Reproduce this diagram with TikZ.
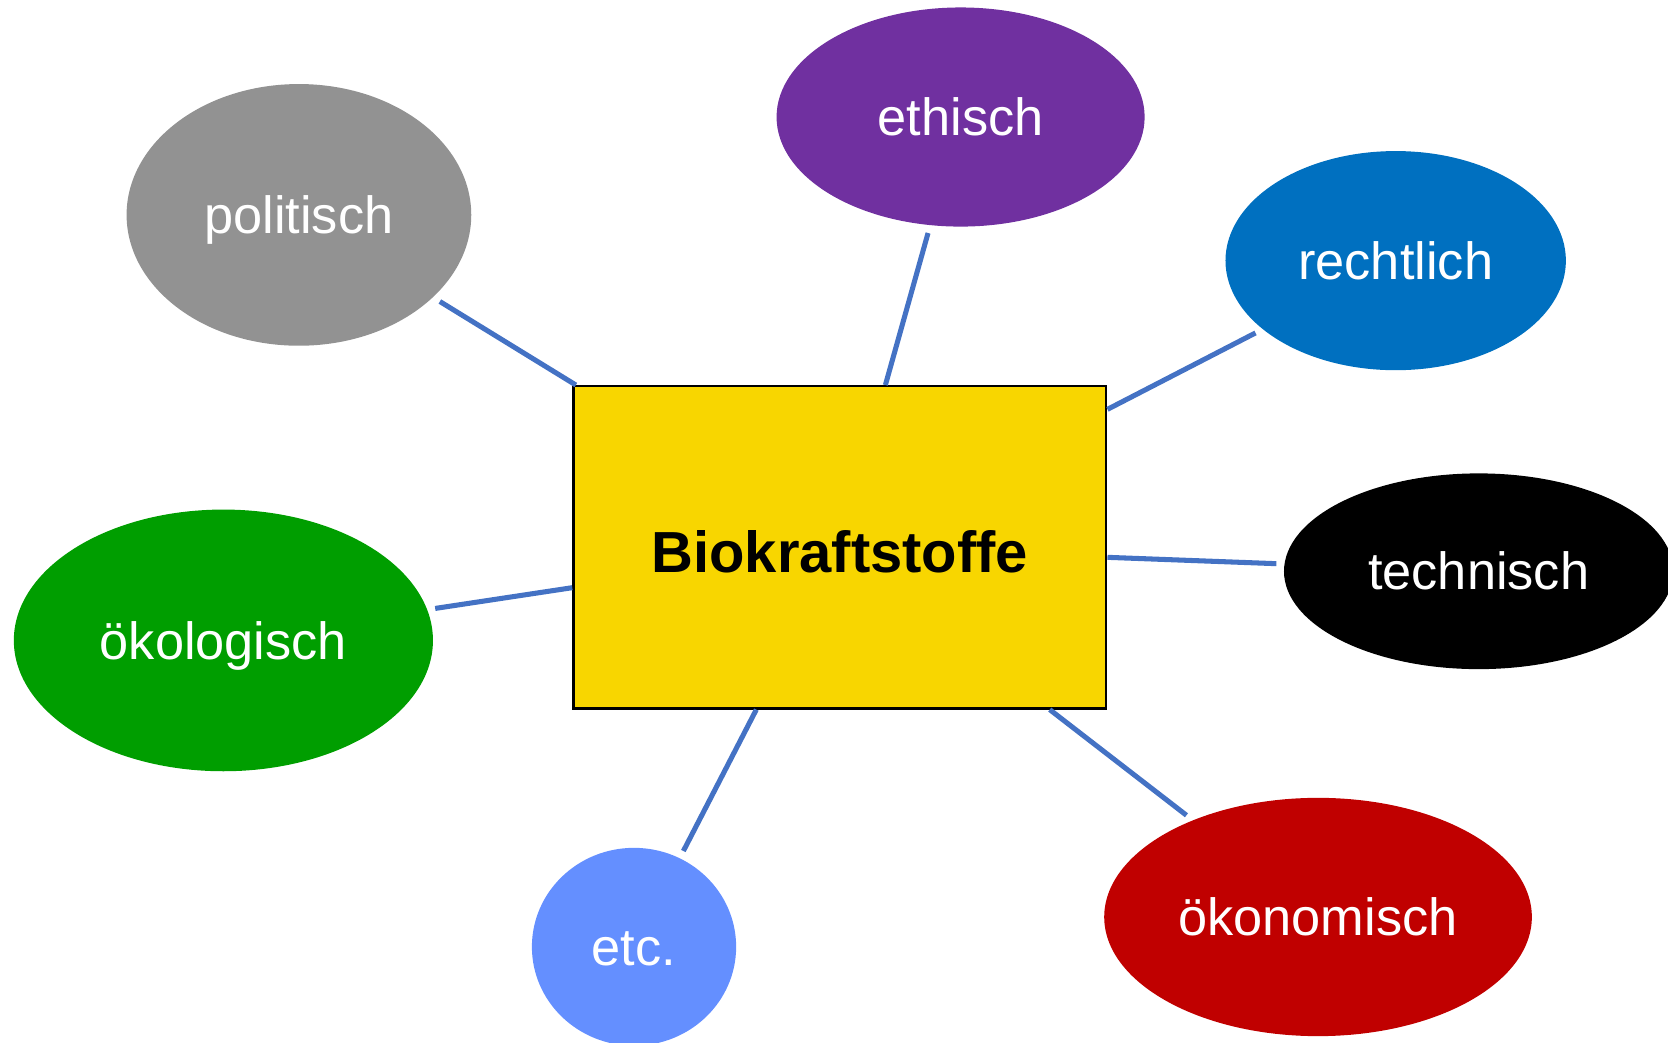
\documentclass[tikz,border=0pt]{standalone}
\usepackage{fontspec}
\setmainfont{Liberation Sans}
\usetikzlibrary{shapes.geometric}
\definecolor{BKFgray}{RGB}{146,146,146}
\definecolor{BKFpurple}{RGB}{112,48,160}
\definecolor{BKFblue}{RGB}{0,112,192}
\definecolor{BKFgreen}{RGB}{0,158,0}
\definecolor{BKFred}{RGB}{192,0,0}
\definecolor{BKFlight}{RGB}{100,143,255}
\definecolor{BKFyellow}{RGB}{248,214,0}
\definecolor{BKFline}{RGB}{68,114,196}
\tikzstyle{BKFbox}=[rectangle, fill=BKFyellow, draw=black, line width=0.6pt, minimum width=5.01cm, minimum height=3.03cm, text height=0.47cm, text depth=0cm, font=\fontsize{15.5}{18}\selectfont\bfseries]
\tikzstyle{BKFaspect}=[ellipse, inner sep=0pt, text=white, text height=0.45cm, text depth=0.1cm, font=\fontsize{14}{17}\selectfont]
\tikzstyle{BKFlink}=[draw=BKFline, line width=1.35pt, shorten >=0.07cm]

\begin{document}
\begin{tikzpicture}
                \path [use as bounding box] (0,0) rectangle (15.68,9.80);
                \node [BKFbox] (core) at (7.895,4.655) {Biokraftstoffe};
                \node [BKFaspect, fill=BKFgray, minimum width=3.24cm, minimum height=2.46cm] (pol) at (2.81,7.78) {politisch};
                \node [BKFaspect, fill=BKFpurple, minimum width=3.46cm, minimum height=2.06cm] (eth) at (9.03,8.70) {ethisch};
                \node [BKFaspect, fill=BKFblue, minimum width=3.20cm, minimum height=2.06cm] (rec) at (13.12,7.35) {rechtlich};
                \node [BKFaspect, fill=black, minimum width=3.66cm, minimum height=1.84cm] (tec) at (13.90,4.43) {technisch};
                \node [BKFaspect, fill=BKFgreen, minimum width=3.94cm, minimum height=2.46cm] (oek) at (2.10,3.78) {ökologisch};
                \node [BKFaspect, fill=BKFlight, minimum width=1.92cm, minimum height=1.86cm] (etc) at (5.96,0.90) {etc.};
                \node [BKFaspect, fill=BKFred, minimum width=4.02cm, minimum height=2.24cm] (oko) at (12.39,1.18) {ökonomisch};
                \foreach \aspect in {pol,eth,rec,tec,oek,etc,oko}
                    \path [BKFlink] (core) -- (\aspect);
            \end{tikzpicture}
\end{document}
